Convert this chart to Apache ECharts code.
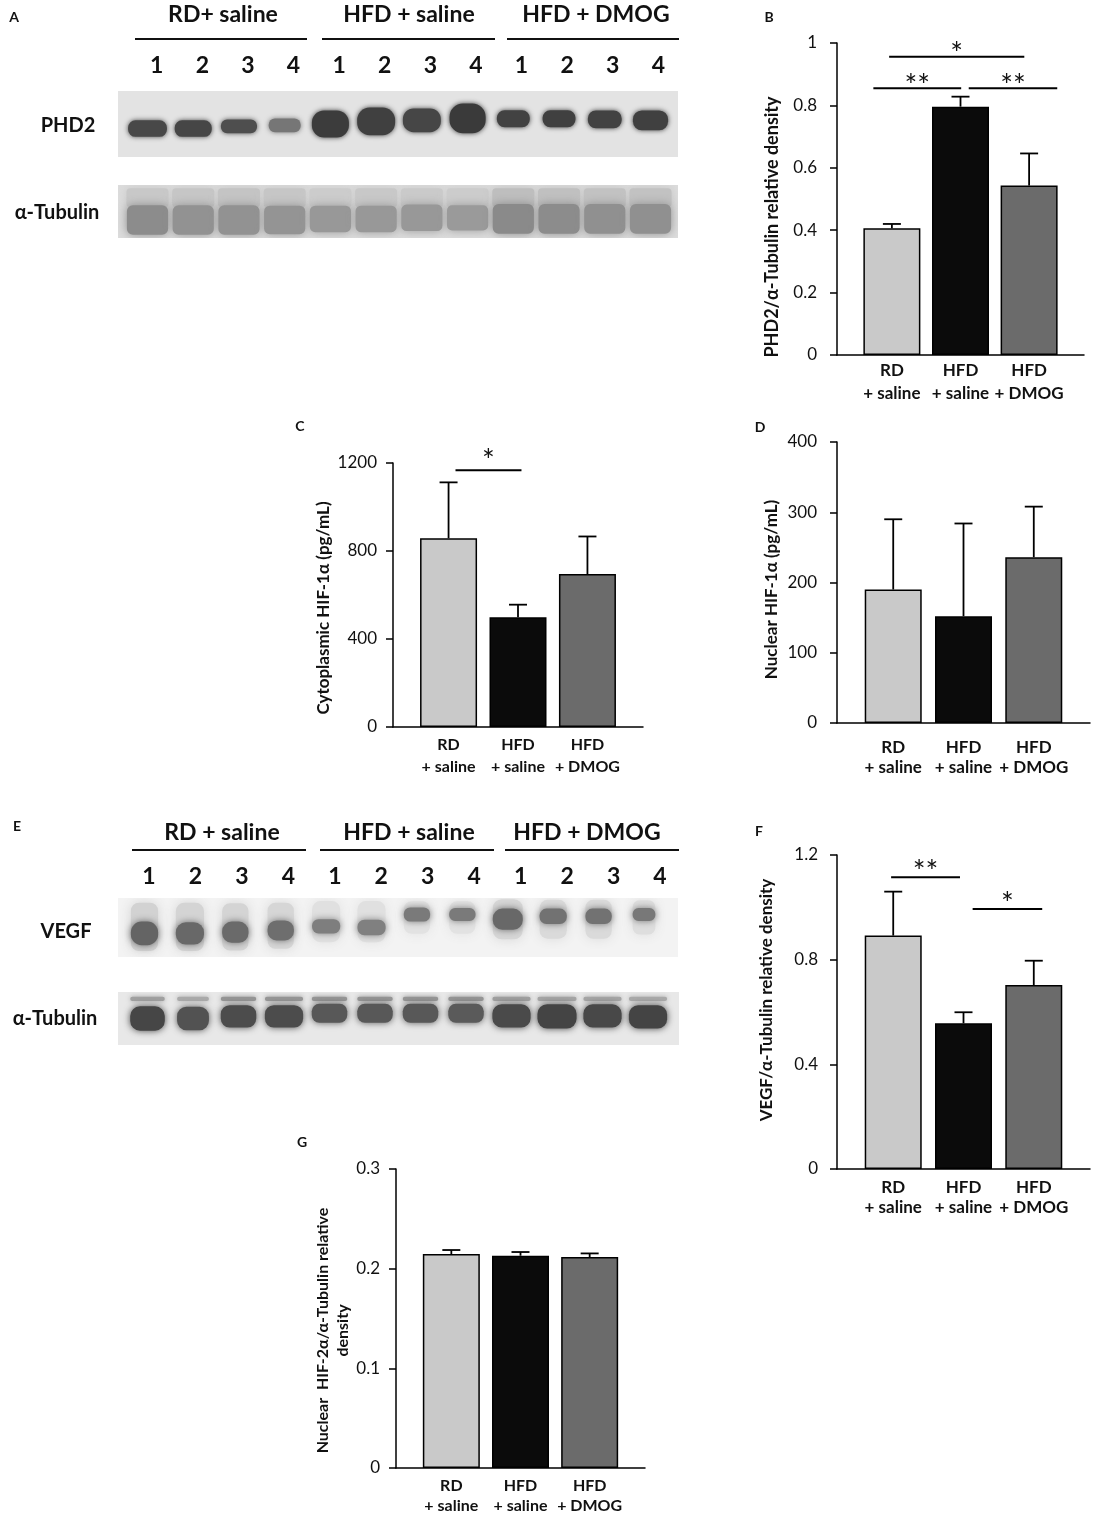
<html>
<head>
<meta charset="UTF-8" />
<script src="https://cdn.jsdelivr.net/npm/echarts@6/dist/echarts.min.js"></script>
<style>
  body { margin: 0; background: #fff; }
  #main { width: 1093px; height: 1516px; }
</style>
</head>
<body>
<div id="main"></div>
<script>
// ---- labels ----
const groupsA = ['RD+ saline', 'HFD + saline', 'HFD + DMOG'];
const groupsE = ['RD + saline', 'HFD + saline', 'HFD + DMOG'];
const laneNums = ['1', '2', '3', '4', '1', '2', '3', '4', '1', '2', '3', '4'];
const cats = ['RD\n+ saline', 'HFD\n+ saline', 'HFD\n+ DMOG'];
const barColors = ['#c9c9c9', '#0b0b0b', '#6b6b6b'];

// ---- bar panels: mean and SEM (upper bar only) ----
const phd2Mean = [0.406, 0.796, 0.543];
const phd2Err = [0.014, 0.032, 0.103];
const cytoMean = [858, 499, 695];
const cytoErr = [254, 57, 171];
const nucMean = [190, 152, 236];
const nucErr = [100, 132, 72];
const vegfMean = [0.892, 0.557, 0.703];
const vegfErr = [0.168, 0.042, 0.093];
const hif2Mean = [0.2147, 0.213, 0.2117];
const hif2Err = [0.004, 0.0037, 0.0036];

// significance bars: [x from, x to, y] (x in group slots, bars sit at 0.8 / 1.8 / 2.8)
const sigB = [[0.76, 2.73, 0.956], [0.53, 1.81, 0.855], [1.92, 3.21, 0.855]];
const sigBText = ['*', '**', '**'];
const sigC = [[0.9, 1.85, 1167]];
const sigCText = ['*'];
const sigF = [[0.77, 1.75, 1.115], [1.93, 2.92, 0.994]];
const sigFText = ['**', '*'];

// ---- blots: per lane band centre (0 top .. 1 bottom of strip), thickness, width (lanes), grey ----
const phd2BandY = [0.57, 0.57, 0.535, 0.52, 0.50, 0.46, 0.445, 0.415, 0.42, 0.42, 0.43, 0.445];
const phd2BandH = [0.25, 0.25, 0.21, 0.21, 0.41, 0.42, 0.36, 0.45, 0.26, 0.26, 0.27, 0.30];
const phd2BandW = [0.85, 0.81, 0.79, 0.70, 0.81, 0.83, 0.83, 0.79, 0.72, 0.72, 0.74, 0.77];
const phd2Grey = [72, 70, 78, 118, 60, 64, 70, 58, 66, 64, 66, 64];

const tubABandY = [0.66, 0.66, 0.66, 0.66, 0.64, 0.64, 0.62, 0.62, 0.64, 0.64, 0.64, 0.64];
const tubABandH = [0.56, 0.56, 0.56, 0.54, 0.50, 0.50, 0.50, 0.48, 0.56, 0.56, 0.56, 0.56];
const tubAGrey = [140, 146, 146, 148, 152, 152, 152, 154, 138, 140, 144, 144];
const tubAFaintGrey = [200, 198, 196, 198, 204, 200, 202, 204, 190, 192, 194, 194];

const vegfSmearY = [0.49, 0.49, 0.49, 0.47, 0.40, 0.40, 0.33, 0.33, 0.36, 0.36, 0.36, 0.33];
const vegfSmearH = [0.82, 0.82, 0.80, 0.78, 0.70, 0.70, 0.55, 0.55, 0.68, 0.66, 0.66, 0.58];
const vegfSmearGrey = [210, 212, 212, 214, 224, 224, 226, 226, 214, 218, 218, 222];
const vegfBandY = [0.60, 0.60, 0.58, 0.55, 0.48, 0.50, 0.28, 0.28, 0.36, 0.31, 0.31, 0.28];
const vegfBandH = [0.40, 0.38, 0.36, 0.34, 0.24, 0.26, 0.24, 0.22, 0.36, 0.26, 0.26, 0.22];
const vegfBandW = [0.60, 0.62, 0.58, 0.58, 0.62, 0.62, 0.58, 0.58, 0.66, 0.60, 0.58, 0.50];
const vegfGrey = [100, 104, 106, 110, 126, 128, 122, 122, 104, 114, 114, 120];

const tubEBandY = [0.50, 0.50, 0.46, 0.46, 0.40, 0.40, 0.40, 0.40, 0.45, 0.46, 0.45, 0.47];
const tubEBandH = [0.46, 0.44, 0.42, 0.42, 0.36, 0.36, 0.36, 0.36, 0.44, 0.46, 0.44, 0.44];
const tubEBandW = [0.76, 0.70, 0.78, 0.84, 0.78, 0.78, 0.78, 0.78, 0.84, 0.86, 0.84, 0.84];
const tubEGrey = [70, 82, 76, 76, 88, 88, 88, 90, 74, 68, 72, 68];
const tubETopGrey = [160, 170, 150, 150, 150, 150, 150, 150, 160, 166, 166, 170];

const FONT = 'Lato';
const grids = [], xAxes = [], yAxes = [], series = [], graphic = [];

function laneRange(x0, x1, first, last, n) {
  const per = (last - first) / (n - 1);
  return { min: -(first - x0) / per, max: n - 1 + (x1 - last) / per };
}

function grey(g) {
  return 'rgb(' + g + ',' + g + ',' + g + ')';
}

function bandRender(blur, round) {
  return function (params, api) {
    const lane = api.value(0), yc = api.value(1), h = api.value(2), w = api.value(3);
    const p0 = api.coord([lane - w / 2, yc - h / 2]);
    const p1 = api.coord([lane + w / 2, yc + h / 2]);
    const x = Math.min(p0[0], p1[0]), y = Math.min(p0[1], p1[1]);
    const bw = Math.abs(p1[0] - p0[0]), bh = Math.abs(p1[1] - p0[1]);
    const c = grey(api.value(4));
    return {
      type: 'rect',
      shape: { x: x, y: y, width: bw, height: bh, r: Math.min(bw, bh) * round },
      style: { fill: c, shadowBlur: blur, shadowColor: c }
    };
  };
}

// box: [x0, y0, x1, y1], lanes: pixel centre of first/last band, nums: pixel centre of first/last lane number
function blotPanel(box, bg, lanes, layers, nums) {
  const gi = grids.length;
  grids.push({ left: box[0], top: box[1], width: box[2] - box[0], height: box[3] - box[1],
    show: true, backgroundColor: bg, borderWidth: 0 });
  const xi = xAxes.length, yi = yAxes.length;
  const r = laneRange(box[0], box[2], lanes[0], lanes[1], 12);
  xAxes.push({ gridIndex: gi, type: 'value', min: r.min, max: r.max, show: false });
  yAxes.push({ gridIndex: gi, type: 'value', min: 0, max: 1, inverse: true, show: false });
  if (nums) {
    const rn = laneRange(box[0], box[2], nums[0], nums[1], 12);
    xAxes.push({
      gridIndex: gi, type: 'value', position: 'top', min: rn.min, max: rn.max,
      axisLine: { show: false }, axisTick: { show: false }, splitLine: { show: false },
      axisLabel: {
        customValues: [0, 1, 2, 3, 4, 5, 6, 7, 8, 9, 10, 11],
        formatter: function (v) { return laneNums[Math.round(v)]; },
        fontFamily: FONT, fontWeight: 'bold', fontSize: 23, color: '#111', margin: nums[2]
      }
    });
  }
  layers.forEach(function (l) {
    series.push({
      type: 'custom', xAxisIndex: xi, yAxisIndex: yi, silent: true, animation: false, clip: true,
      renderItem: bandRender(l.blur, l.round),
      data: l.y.map(function (y, i) { return [i, y, l.h[i], l.w[i], l.g[i]]; })
    });
  });
}

function barPanel(box, yMax, yInt, mean, err, sig, sigText, name, o) {
  const gi = grids.length;
  grids.push({ left: box[0], top: box[1], width: box[2] - box[0], height: box[3] - box[1] });
  const xi = xAxes.length, yi = yAxes.length;
  xAxes.push({
    gridIndex: gi, type: 'value', min: 0, max: 3.6,
    axisLine: { show: true, onZero: false, lineStyle: { color: '#000', width: 1.5 } },
    axisTick: { show: false }, splitLine: { show: false },
    axisLabel: {
      customValues: [0.8, 1.8, 2.8],
      formatter: function (v) { return cats[Math.round(v - 0.8)]; },
      fontFamily: FONT, fontWeight: 'bold', fontSize: o.catSize, lineHeight: o.catLine,
      color: '#111', margin: o.catMargin
    }
  });
  yAxes.push({
    gridIndex: gi, type: 'value', min: 0, max: yMax, interval: yInt,
    axisLine: { show: true, lineStyle: { color: '#000', width: 1.5 } },
    axisTick: { show: true, length: 7, lineStyle: { color: '#000', width: 1.5 } },
    splitLine: { show: false },
    axisLabel: { fontFamily: FONT, fontSize: 17, color: '#111', margin: o.tickMargin,
      formatter: function (v) { return String(+v.toFixed(2)); } },
    name: name, nameLocation: 'middle', nameGap: o.nameGap,
    nameTextStyle: { fontFamily: FONT, fontWeight: 'bold', fontSize: o.nameSize, color: '#111',
      lineHeight: o.nameLine || o.nameSize + 4, padding: o.namePad }
  });
  series.push({
    type: 'bar', xAxisIndex: xi, yAxisIndex: yi, barWidth: 57, silent: true, animation: false,
    itemStyle: { borderColor: '#000', borderWidth: 1.5 },
    data: mean.map(function (m, i) { return { value: [0.8 + i, m], itemStyle: { color: barColors[i] } }; })
  });
  series.push({
    type: 'custom', xAxisIndex: xi, yAxisIndex: yi, silent: true, animation: false, z: 3,
    data: mean.map(function (m, i) { return [0.8 + i, m, m + err[i]]; }),
    renderItem: function (p, api) {
      const a = api.coord([api.value(0), api.value(1)]);
      const b = api.coord([api.value(0), api.value(2)]);
      const s = { stroke: '#000', lineWidth: 1.8 };
      return { type: 'group', children: [
        { type: 'line', shape: { x1: a[0], y1: a[1], x2: b[0], y2: b[1] }, style: s },
        { type: 'line', shape: { x1: b[0] - 9, y1: b[1], x2: b[0] + 9, y2: b[1] }, style: s }
      ] };
    }
  });
  if (sig) {
    series.push({
      type: 'custom', xAxisIndex: xi, yAxisIndex: yi, silent: true, animation: false, z: 3,
      data: sig,
      renderItem: function (p, api) {
        const a = api.coord([api.value(0), api.value(2)]);
        const b = api.coord([api.value(1), api.value(2)]);
        return { type: 'group', children: [
          { type: 'line', shape: { x1: a[0], y1: a[1], x2: b[0], y2: b[1] }, style: { stroke: '#000', lineWidth: 2 } },
          { type: 'text', x: (a[0] + b[0]) / 2, y: a[1] + o.starDy,
            style: { text: sigText[p.dataIndex], fontFamily: FONT, fontSize: 30, fill: '#111',
              align: 'center', verticalAlign: 'bottom' } }
        ] };
      }
    });
  }
}

function text(x, y, t, size, weight) {
  graphic.push({ type: 'text', x: x, y: y, silent: true,
    style: { text: t, fontFamily: FONT, fontSize: size, fontWeight: weight || 'bold', fill: '#111',
      align: 'center', verticalAlign: 'middle' } });
}
function rule(x1, x2, y) {
  graphic.push({ type: 'line', silent: true, shape: { x1: x1, y1: y, x2: x2, y2: y },
    style: { stroke: '#111', lineWidth: 2 } });
}
function fill(arr, v) {
  return arr.map(function () { return v; });
}

// ---- panel A ----
text(14, 17, 'A', 14);
text(223, 15, groupsA[0], 23);
text(409, 15, groupsA[1], 23);
text(596, 15, groupsA[2], 23);
rule(135, 307, 39); rule(322, 495, 39); rule(507, 679, 39);
text(68, 126, 'PHD2', 20);
text(57, 213, 'α-Tubulin', 20);
blotPanel([118, 91, 678, 157], '#e3e3e3', [147.5, 650.5], [
  { y: phd2BandY, h: phd2BandH, w: phd2BandW, g: phd2Grey, blur: 5, round: 0.45 }
], [156.7, 658.3, 14]);
blotPanel([118, 185, 678, 238], '#dcdcdc', [147.5, 650.5], [
  { y: fill(tubABandY, 0.24), h: fill(tubABandY, 0.36), w: fill(tubABandY, 0.92), g: tubAFaintGrey, blur: 10, round: 0.2 },
  { y: tubABandY, h: tubABandH, w: fill(tubABandY, 0.9), g: tubAGrey, blur: 10, round: 0.2 }
]);

// ---- panel E ----
text(17, 826, 'E', 14);
text(222, 833, groupsE[0], 23);
text(409, 833, groupsE[1], 23);
text(587, 833, groupsE[2], 23);
rule(132, 306, 850); rule(320, 494, 850); rule(505, 679, 850);
text(66, 932, 'VEGF', 20);
text(55, 1019, 'α-Tubulin', 20);
blotPanel([118, 898, 678, 957], '#f3f3f3', [144.5, 644], [
  { y: vegfSmearY, h: vegfSmearH, w: vegfBandW, g: vegfSmearGrey, blur: 12, round: 0.3 },
  { y: vegfBandY, h: vegfBandH, w: vegfBandW, g: vegfGrey, blur: 7, round: 0.45 }
], [149, 660, 10]);
blotPanel([118, 992, 679, 1045], '#e8e8e8', [147.5, 648], [
  { y: fill(tubEBandY, 0.13), h: fill(tubEBandY, 0.08), w: tubEBandW, g: tubETopGrey, blur: 5, round: 0.5 },
  { y: tubEBandY, h: tubEBandH, w: tubEBandW, g: tubEGrey, blur: 7, round: 0.4 }
]);

// ---- bar panels ----
text(769, 17, 'B', 14);
barPanel([837, 43, 1084, 355], 1, 0.2, phd2Mean, phd2Err, sigB, sigBText,
  'PHD2/α-Tubulin relative density',
  { catSize: 17, catLine: 23, catMargin: 4, tickMargin: 20, nameGap: 54, nameSize: 18, namePad: [0, 56, 0, 0], starDy: 13 });

text(300, 426, 'C', 14);
barPanel([393, 463, 643, 727], 1200, 400, cytoMean, cytoErr, sigC, sigCText,
  'Cytoplasmic HIF-1α (pg/mL)',
  { catSize: 16, catLine: 22, catMargin: 7, tickMargin: 16, nameGap: 52, nameSize: 17, namePad: [0, 26, 0, 0], starDy: 6 });

text(760, 427, 'D', 14);
barPanel([837, 442, 1090, 723], 400, 100, nucMean, nucErr, null, null,
  'Nuclear HIF-1α (pg/mL)',
  { catSize: 17, catLine: 20, catMargin: 15, tickMargin: 20, nameGap: 55, nameSize: 17, namePad: [0, 14, 0, 0] });

text(759, 831, 'F', 14);
barPanel([837, 855, 1090, 1169], 1.2, 0.4, vegfMean, vegfErr, sigF, sigFText,
  'VEGF/α-Tubulin relative density',
  { catSize: 17, catLine: 20, catMargin: 9, tickMargin: 19, nameGap: 60, nameSize: 17, namePad: [0, 0, 0, 24], starDy: 10 });

text(302, 1142, 'G', 14);
barPanel([396, 1169, 645, 1468], 0.3, 0.1, hif2Mean, hif2Err, null, null,
  'Nuclear  HIF-2α/α-Tubulin relative\ndensity',
  { catSize: 16, catLine: 20, catMargin: 8, tickMargin: 16, nameGap: 43, nameSize: 16, nameLine: 20, namePad: [0, 24, 0, 0] });

const chart = echarts.init(document.getElementById('main'));
chart.setOption({
  animation: false,
  backgroundColor: '#fff',
  grid: grids,
  xAxis: xAxes,
  yAxis: yAxes,
  series: series,
  graphic: graphic
});
</script>
</body>
</html>
